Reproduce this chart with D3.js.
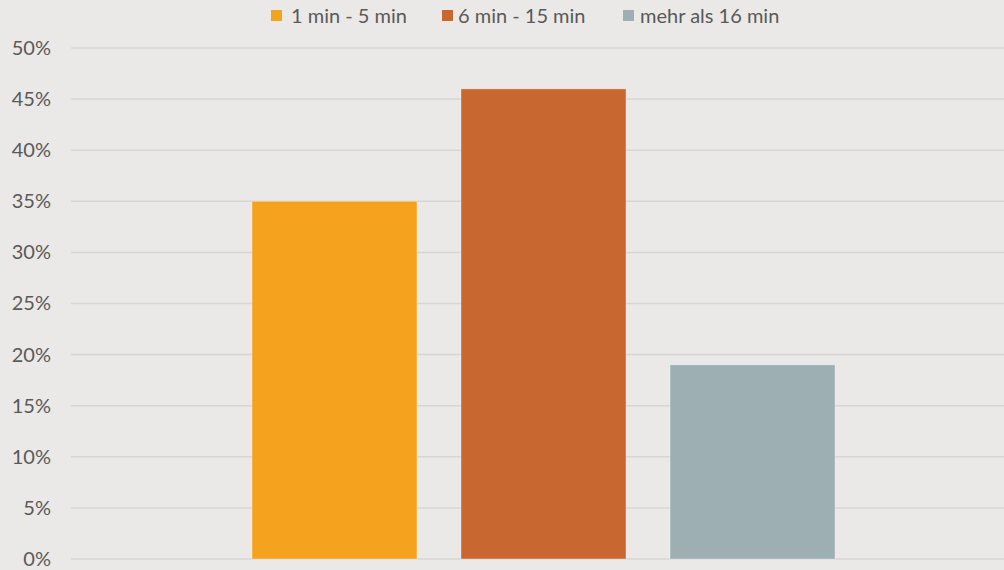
<!DOCTYPE html>
<html>
<head>
  <meta charset="utf-8">
  <script src="https://d3js.org/d3.v7.min.js"></script>
  <style>
    body { margin: 0; background: #ebe9e7; }
    svg { display: block; font-family: "Lato", "Open Sans", sans-serif; }
  </style>
</head>
<body>
  <script>
    // data
    var categories = [""];
    var series = ["1 min - 5 min", "6 min - 15 min", "mehr als 16 min"];
    var values = [0.35, 0.46, 0.19];
    var colors = ["#f5a31e", "#c8672f", "#9eafb4"];
    var yTicks = [0, 0.05, 0.1, 0.15, 0.2, 0.25, 0.3, 0.35, 0.4, 0.45, 0.5];

    var width = 1004, height = 570;
    var plotLeft = 71, plotRight = 1016, plotTop = 48, plotBottom = 559;

    var svg = d3.select("body").append("svg")
      .attr("width", width)
      .attr("height", height);

    svg.append("rect").attr("width", width).attr("height", height).attr("fill", "#ebe9e7");

    var y = d3.scaleLinear().domain([0, 0.5]).range([plotBottom, plotTop]);

    var x0 = d3.scaleBand().domain(categories).range([plotLeft, plotRight])
      .paddingInner(0).paddingOuter(0.2536);
    var x1 = d3.scaleBand().domain(series).range([0, x0.bandwidth()])
      .paddingInner(0.2105).paddingOuter(0.105);

    // gridlines
    svg.append("g").selectAll("line")
      .data(yTicks)
      .enter().append("line")
      .attr("x1", plotLeft).attr("x2", width)
      .attr("y1", function (d) { return y(d); })
      .attr("y2", function (d) { return y(d); })
      .attr("stroke", "#d8d6d4")
      .attr("stroke-width", 1.5);

    // y axis labels
    var yAxis = d3.axisLeft(y).tickValues(yTicks).tickFormat(d3.format(".0%")).tickSize(0).tickPadding(0);
    var ax = svg.append("g").attr("transform", "translate(51,0)").call(yAxis);
    ax.select(".domain").remove();
    ax.selectAll("text")
      .attr("fill", "#595959")
      .style("font-size", "20px")
      .style("font-family", "Lato, sans-serif");

    // bars
    svg.append("g").selectAll("rect")
      .data(series)
      .enter().append("rect")
      .attr("x", function (d) { return x0(categories[0]) + x1(d); })
      .attr("y", function (d, i) { return y(values[i]); })
      .attr("width", x1.bandwidth())
      .attr("height", function (d, i) { return plotBottom - y(values[i]); })
      .attr("fill", function (d, i) { return colors[i]; })
      .attr("stroke", "rgba(255,255,255,0.35)")
      .attr("stroke-width", 1);

    // legend
    var legendX = [271, 442, 623];
    var textOff = [20, 16, 17];
    var lg = svg.append("g").selectAll("g")
      .data(series)
      .enter().append("g")
      .attr("transform", function (d, i) { return "translate(" + legendX[i] + ",0)"; });
    lg.append("rect")
      .attr("x", 0).attr("y", 10)
      .attr("width", 11).attr("height", 11)
      .attr("fill", function (d, i) { return colors[i]; });
    lg.append("text")
      .attr("x", function (d, i) { return textOff[i]; })
      .attr("y", 23)
      .attr("fill", "#595959")
      .style("font-size", "20px")
      .text(function (d) { return d; });
  </script>
</body>
</html>
